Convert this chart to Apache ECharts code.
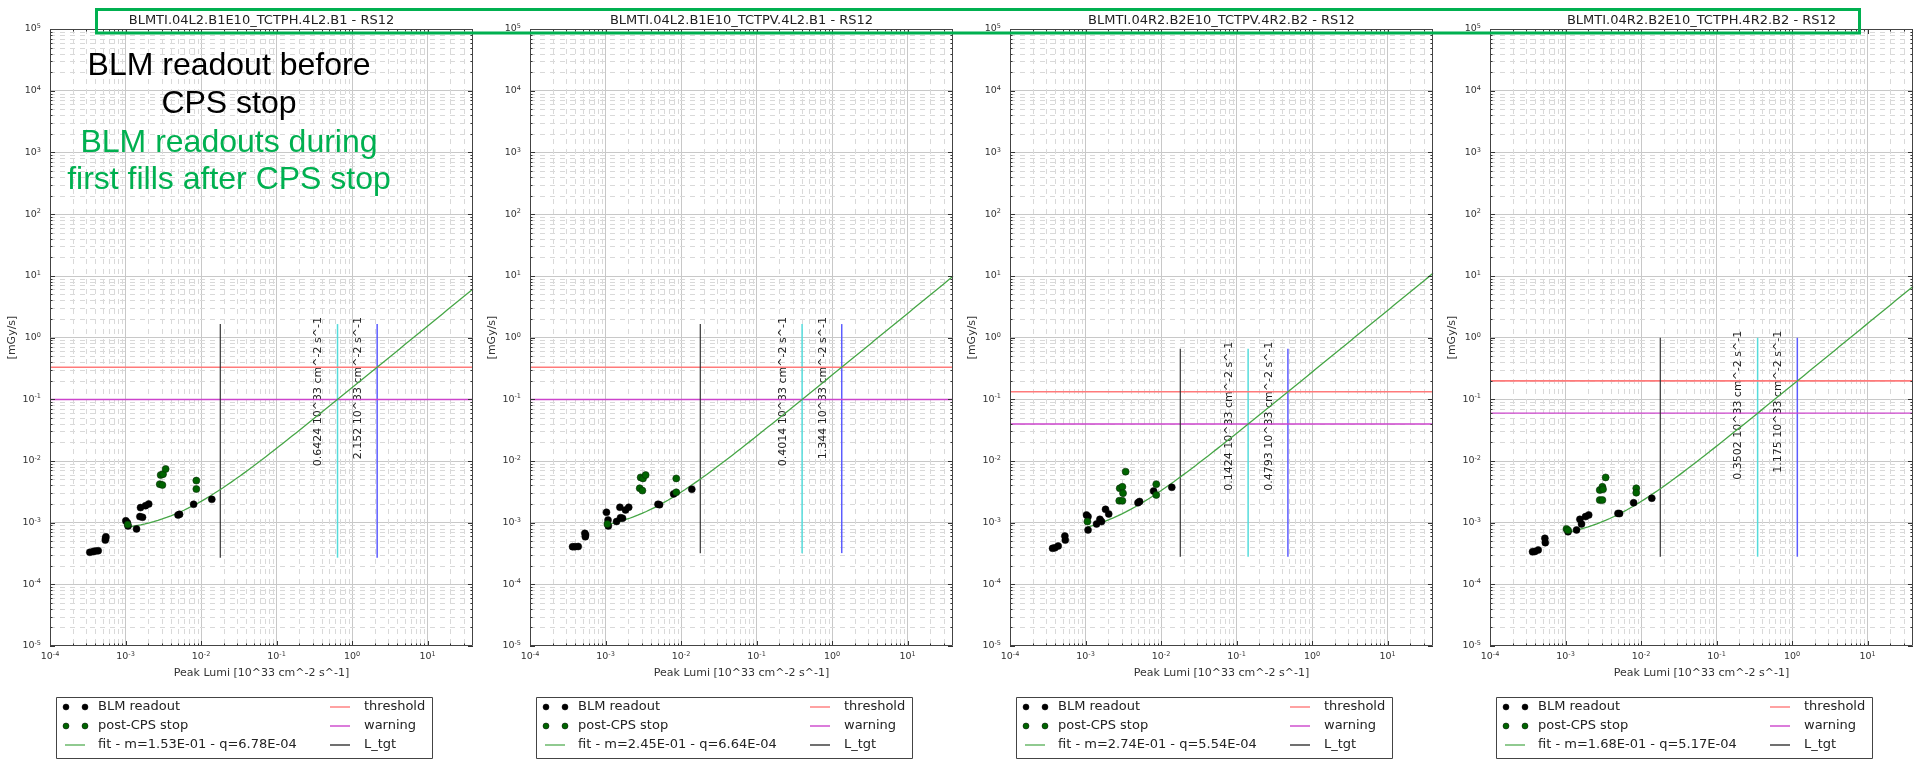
<!DOCTYPE html>
<html>
<head>
<meta charset="utf-8">
<script src="https://cdn.jsdelivr.net/npm/echarts@6/dist/echarts.min.js"></script>
<style>
  html, body { margin: 0; padding: 0; background: #fff; }
  #chart { width: 1915px; height: 760px; }
</style>
</head>
<body>
<div id="chart"></div>
<script>
// ---- data -------------------------------------------------------------
const panelTitles = [
  'BLMTI.04L2.B1E10_TCTPH.4L2.B1 - RS12',
  'BLMTI.04L2.B1E10_TCTPV.4L2.B1 - RS12',
  'BLMTI.04R2.B2E10_TCTPV.4R2.B2 - RS12',
  'BLMTI.04R2.B2E10_TCTPH.4R2.B2 - RS12'
];

// BLM readout before the CPS stop: peak luminosity [10^33 cm^-2 s^-1] and dose rate [mGy/s]
const blmLumi = [
  [3.37e-4, 3.73e-4, 4.0e-4, 4.35e-4, 5.4e-4, 5.45e-4, 5.5e-4, 1.01e-3, 1.06e-3, 1.08e-3, 1.4e-3, 1.55e-3, 1.68e-3, 1.58e-3, 1.84e-3, 2.03e-3, 4.96e-3, 5.2e-3, 7.98e-3, 1.39e-2],
  [3.66e-4, 3.93e-4, 4.35e-4, 5.33e-4, 5.4e-4, 5.45e-4, 1.03e-3, 1.08e-3, 1.09e-3, 1.4e-3, 1.55e-3, 1.58e-3, 1.68e-3, 1.84e-3, 2.03e-3, 4.95e-3, 5.2e-3, 7.98e-3, 1.39e-2],
  [3.66e-4, 3.93e-4, 4.35e-4, 5.33e-4, 5.4e-4, 1.03e-3, 1.08e-3, 1.08e-3, 1.4e-3, 1.55e-3, 1.63e-3, 1.84e-3, 2.03e-3, 4.95e-3, 5.2e-3, 7.98e-3, 1.39e-2],
  [3.66e-4, 3.93e-4, 4.35e-4, 5.33e-4, 5.4e-4, 1.08e-3, 1.4e-3, 1.55e-3, 1.63e-3, 1.84e-3, 2.03e-3, 4.95e-3, 5.2e-3, 7.98e-3, 1.39e-2]
];
const blmDose = [
  [3.3e-4, 3.4e-4, 3.45e-4, 3.5e-4, 5.2e-4, 5.6e-4, 5.9e-4, 1.07e-3, 9.9e-4, 8.8e-4, 7.9e-4, 1.25e-3, 1.22e-3, 1.75e-3, 1.88e-3, 2.0e-3, 1.33e-3, 1.36e-3, 1.98e-3, 2.38e-3],
  [4.07e-4, 4.07e-4, 4.1e-4, 6.7e-4, 5.9e-4, 6.3e-4, 1.47e-3, 1.1e-3, 8.8e-4, 1.04e-3, 1.77e-3, 1.2e-3, 1.18e-3, 1.6e-3, 1.77e-3, 1.98e-3, 1.95e-3, 2.92e-3, 3.47e-3],
  [3.83e-4, 3.9e-4, 4.18e-4, 6.07e-4, 5.2e-4, 1.33e-3, 1.25e-3, 7.6e-4, 9.5e-4, 1.13e-3, 1.04e-3, 1.64e-3, 1.38e-3, 2.1e-3, 2.2e-3, 3.25e-3, 3.73e-3],
  [3.38e-4, 3.4e-4, 3.6e-4, 5.56e-4, 4.73e-4, 7.1e-4, 7.6e-4, 1.13e-3, 9.5e-4, 1.25e-3, 1.33e-3, 1.41e-3, 1.4e-3, 2.1e-3, 2.48e-3]
];

// BLM readout during the first fills after the CPS stop
const postLumi = [
  [1.07e-3, 2.84e-3, 3.08e-3, 2.92e-3, 3.14e-3, 3.4e-3, 8.67e-3, 8.67e-3],
  [1.06e-3, 2.84e-3, 3.08e-3, 2.92e-3, 3.14e-3, 3.4e-3, 8.65e-3, 8.65e-3],
  [1.06e-3, 2.8e-3, 3.08e-3, 2.84e-3, 3.08e-3, 3.14e-3, 3.4e-3, 8.65e-3, 8.65e-3],
  [1.03e-3, 1.08e-3, 2.84e-3, 3.08e-3, 2.84e-3, 3.08e-3, 3.14e-3, 3.4e-3, 8.65e-3, 8.65e-3]
];
const postDose = [
  [9.3e-4, 4.2e-3, 4.07e-3, 5.9e-3, 6.1e-3, 7.4e-3, 4.8e-3, 3.5e-3],
  [9.5e-4, 3.6e-3, 3.3e-3, 5.4e-3, 5.2e-3, 5.9e-3, 5.2e-3, 3.1e-3],
  [1.04e-3, 2.26e-3, 2.26e-3, 3.6e-3, 3.8e-3, 3.0e-3, 6.7e-3, 4.2e-3, 2.8e-3],
  [7.9e-4, 7.5e-4, 2.32e-3, 2.32e-3, 3.37e-3, 3.8e-3, 3.47e-3, 5.4e-3, 3.6e-3, 3.05e-3]
];

// linear fit  dose = m * lumi + q
const fitSlope  = [1.53e-1, 2.45e-1, 2.74e-1, 1.68e-1];
const fitOffset = [6.78e-4, 6.64e-4, 5.54e-4, 5.17e-4];

const thresholdDose = [0.330, 0.330, 0.132, 0.198];
const warningDose   = [0.0990, 0.0990, 0.0396, 0.0594];
const lumiAtWarning   = [0.6424, 0.4014, 0.1424, 0.3502];
const lumiAtThreshold = [2.152, 1.344, 0.4793, 1.175];
const lumiTarget      = [0.018, 0.018, 0.018, 0.018];
const markerLow  = [2.7e-4, 3.2e-4, 2.8e-4, 2.8e-4];
const markerHigh = [1.65, 1.65, 0.66, 0.99];

const lumiRange = [1e-4, 40];
const doseRange = [1e-5, 1e5];

// ---- layout ------------------------------------------------------------
const PANEL_W = 480, PLOT_L = 50, PLOT_W = 423, PLOT_T = 29, PLOT_H = 617;
const FONT = '"DejaVu Sans", sans-serif';
const C_FIT = '#46a646', C_THR = '#ff7a7a', C_WARN = '#cc44cc', C_TGT = '#333333';
const C_LW = '#55dcdc', C_LT = '#5c5cff';

const panels = [0, 1, 2, 3];

function sci(v) {
  const [mant, ex] = v.toExponential(2).split('e');
  const n = parseInt(ex, 10);
  return mant + 'E' + (n < 0 ? '-' : '+') + String(Math.abs(n)).padStart(2, '0');
}

function powLabel(v) {
  const l = Math.log10(v);
  const e = Math.round(l);
  if (Math.abs(l - e) > 1e-6) return '';
  return '{b|10}{s|' + e + '}';
}

const tickRich = {
  b: { fontSize: 9.5, fontFamily: FONT, color: '#333', lineHeight: 12 },
  s: { fontSize: 6.5, fontFamily: FONT, color: '#333', lineHeight: 8, verticalAlign: 'top' }
};

function minorValues(range) {
  const out = [];
  for (let n = Math.floor(Math.log10(range[0])); n <= Math.ceil(Math.log10(range[1])); n++) {
    for (let k = 2; k <= 9; k++) {
      const v = k * Math.pow(10, n);
      if (v > range[0] && v < range[1]) out.push(v);
    }
  }
  return out;
}
function majorValues(range) {
  const out = [];
  for (let n = Math.ceil(Math.log10(range[0]) - 1e-9); n <= Math.floor(Math.log10(range[1]) + 1e-9); n++) {
    out.push(Math.pow(10, n));
  }
  return out;
}

// dashed minor grid between decades
function renderMinorGrid(params, api) {
  const cs = params.coordSys;
  const kids = [];
  const dash = { stroke: '#d9d9d9', lineWidth: 1, lineDash: [5, 5] };
  minorValues(lumiRange).forEach(v => {
    const x = Math.round(api.coord([v, 1])[0]) + 0.5;
    kids.push({ type: 'line', shape: { x1: x, y1: cs.y, x2: x, y2: cs.y + cs.height }, style: dash });
  });
  minorValues(doseRange).forEach(v => {
    const y = Math.round(api.coord([1, v])[1]) + 0.5;
    kids.push({ type: 'line', shape: { x1: cs.x, y1: y, x2: cs.x + cs.width, y2: y }, style: dash });
  });
  return { type: 'group', children: kids };
}

// plot frame with inward ticks on all four sides
function renderFrame(params, api) {
  const cs = params.coordSys;
  const kids = [];
  const tick = { stroke: '#333', lineWidth: 1 };
  const addX = (v, len) => {
    const x = Math.round(api.coord([v, 1])[0]) + 0.5;
    kids.push({ type: 'line', shape: { x1: x, y1: cs.y + cs.height, x2: x, y2: cs.y + cs.height - len }, style: tick });
    kids.push({ type: 'line', shape: { x1: x, y1: cs.y, x2: x, y2: cs.y + len }, style: tick });
  };
  const addY = (v, len) => {
    const y = Math.round(api.coord([1, v])[1]) + 0.5;
    kids.push({ type: 'line', shape: { x1: cs.x, y1: y, x2: cs.x + len, y2: y }, style: tick });
    kids.push({ type: 'line', shape: { x1: cs.x + cs.width, y1: y, x2: cs.x + cs.width - len, y2: y }, style: tick });
  };
  majorValues(lumiRange).forEach(v => addX(v, 5));
  minorValues(lumiRange).forEach(v => addX(v, 2.5));
  majorValues(doseRange).forEach(v => addY(v, 5));
  minorValues(doseRange).forEach(v => addY(v, 2.5));
  kids.push({
    type: 'rect',
    shape: { x: cs.x + 0.5, y: cs.y + 0.5, width: cs.width - 1, height: cs.height - 1 },
    style: { fill: null, stroke: '#444', lineWidth: 1 }
  });
  return { type: 'group', children: kids };
}

const vlineColors = [C_LW, C_LT];
function renderMarkers(params, api) {
  const x = api.value(0), lo = api.value(1), hi = api.value(2);
  const p0 = api.coord([x, lo]);
  const p1 = api.coord([x, hi]);
  const txt = String(x) + ' 10^33 cm^-2 s^-1';
  return {
    type: 'group',
    children: [
      { type: 'line', shape: { x1: p0[0], y1: p0[1], x2: p1[0], y2: p1[1] },
        style: { stroke: vlineColors[params.dataIndex], lineWidth: 1.5 } },
      { type: 'text', x: p1[0] - 19, y: p1[1] - 7, rotation: Math.PI / 2,
        style: { text: txt, font: '11px ' + FONT, fill: '#222',
                 align: 'right', verticalAlign: 'middle',
                 textAlign: 'right', textVerticalAlign: 'middle' } }
    ]
  };
}

function fitLine(i) {
  const x0 = Math.min.apply(null, postLumi[i]);
  const pts = [];
  const N = 80;
  const l0 = Math.log10(x0), l1 = Math.log10(lumiRange[1]);
  for (let k = 0; k <= N; k++) {
    const x = Math.pow(10, l0 + (l1 - l0) * k / N);
    pts.push([x, fitSlope[i] * x + fitOffset[i]]);
  }
  return pts;
}

const zip = (a, b) => a.map((v, k) => [v, b[k]]);

// ---- option ------------------------------------------------------------
const grids = panels.map(i => ({
  left: i * PANEL_W + PLOT_L, top: PLOT_T, width: PLOT_W, height: PLOT_H,
  containLabel: false
}));

const xAxes = panels.map(i => ({
  type: 'log', logBase: 10, gridIndex: i,
  min: lumiRange[0], max: lumiRange[1], interval: 1,
  axisLine: { show: false }, axisTick: { show: false },
  axisLabel: { formatter: powLabel, rich: tickRich, margin: 5, showMaxLabel: false },
  splitLine: { show: true, showMinLine: false, showMaxLine: false, lineStyle: { color: '#c8c8c8', width: 1 } },
  name: 'Peak Lumi [10^33 cm^-2 s^-1]', nameLocation: 'middle', nameGap: 22,
  nameTextStyle: { fontSize: 11, fontFamily: FONT, color: '#333' }
}));

const yAxes = panels.map(i => ({
  type: 'log', logBase: 10, gridIndex: i,
  min: doseRange[0], max: doseRange[1], interval: 1,
  axisLine: { show: false }, axisTick: { show: false },
  axisLabel: { formatter: powLabel, rich: tickRich, margin: 9 },
  splitLine: { show: true, showMinLine: false, showMaxLine: false, lineStyle: { color: '#c8c8c8', width: 1 } },
  name: '[mGy/s]', nameLocation: 'middle', nameGap: 32,
  nameTextStyle: { fontSize: 11, fontFamily: FONT, color: '#333' }
}));

const series = [];
panels.forEach(i => {
  const ax = { xAxisIndex: i, yAxisIndex: i };
  series.push(Object.assign({ type: 'custom', data: [[1, 1]], renderItem: renderMinorGrid, silent: true, z: 1 }, ax));
  series.push(Object.assign({
    type: 'line', data: [[lumiRange[0], thresholdDose[i]], [lumiRange[1], thresholdDose[i]]],
    showSymbol: false, silent: true, z: 3, lineStyle: { color: C_THR, width: 1.6 }
  }, ax));
  series.push(Object.assign({
    type: 'line', data: [[lumiRange[0], warningDose[i]], [lumiRange[1], warningDose[i]]],
    showSymbol: false, silent: true, z: 3, lineStyle: { color: C_WARN, width: 1.4 }
  }, ax));
  series.push(Object.assign({
    type: 'line', data: [[lumiTarget[i], markerLow[i]], [lumiTarget[i], markerHigh[i]]],
    showSymbol: false, silent: true, z: 3, lineStyle: { color: C_TGT, width: 1.2 }
  }, ax));
  series.push(Object.assign({
    type: 'custom', renderItem: renderMarkers, silent: true, z: 3,
    encode: { x: 0, y: [1, 2] },
    data: [[lumiAtWarning[i], markerLow[i], markerHigh[i]], [lumiAtThreshold[i], markerLow[i], markerHigh[i]]]
  }, ax));
  series.push(Object.assign({
    type: 'line', data: fitLine(i), showSymbol: false, silent: true, z: 4,
    lineStyle: { color: C_FIT, width: 1.3 }
  }, ax));
  series.push(Object.assign({
    type: 'scatter', data: zip(blmLumi[i], blmDose[i]), symbolSize: 7, z: 5,
    itemStyle: { color: '#000', borderColor: '#000', borderWidth: 0.5, opacity: 1 }
  }, ax));
  series.push(Object.assign({
    type: 'scatter', data: zip(postLumi[i], postDose[i]), symbolSize: 7, z: 6,
    itemStyle: { color: '#006400', borderColor: '#0a2a0a', borderWidth: 0.6, opacity: 1 }
  }, ax));
  series.push(Object.assign({ type: 'custom', data: [[1, 1]], renderItem: renderFrame, silent: true, z: 8 }, ax));
});

// titles, legends and annotations
const graphics = [];
const txtStyle = (text, size, color, align, family) => ({
  text: text, font: size + 'px ' + (family || FONT), fill: color,
  align: align || 'left', verticalAlign: 'middle',
  textAlign: align || 'left', textVerticalAlign: 'middle'
});

panels.forEach(i => {
  const ox = i * PANEL_W;
  graphics.push({ type: 'text', x: ox + PLOT_L + PLOT_W / 2, y: 21, style: txtStyle(panelTitles[i], 13, '#222', 'center') });

  // legend box
  graphics.push({ type: 'rect', shape: { x: ox + 56.5, y: 697.5, width: 376, height: 61 },
                  style: { fill: '#fff', stroke: '#444', lineWidth: 1 } });
  const rows = [707, 726, 745];
  [[66, rows[0], '#000'], [85, rows[0], '#000'], [66, rows[1], '#006400'], [85, rows[1], '#006400']].forEach(d => {
    graphics.push({ type: 'circle', shape: { cx: ox + d[0], cy: d[1], r: 3 },
                    style: { fill: d[2], stroke: '#000', lineWidth: 0.5 } });
  });
  graphics.push({ type: 'line', shape: { x1: ox + 65, y1: rows[2], x2: ox + 85, y2: rows[2] }, style: { stroke: C_FIT, lineWidth: 1.2 } });
  graphics.push({ type: 'text', x: ox + 98, y: rows[0], style: txtStyle('BLM readout', 13, '#222') });
  graphics.push({ type: 'text', x: ox + 98, y: rows[1], style: txtStyle('post-CPS stop', 13, '#222') });
  graphics.push({ type: 'text', x: ox + 98, y: rows[2],
                  style: txtStyle('fit - m=' + sci(fitSlope[i]) + ' - q=' + sci(fitOffset[i]), 13, '#222') });
  [[C_THR, 'threshold'], [C_WARN, 'warning'], [C_TGT, 'L_tgt']].forEach((d, k) => {
    graphics.push({ type: 'line', shape: { x1: ox + 330, y1: rows[k], x2: ox + 350, y2: rows[k] }, style: { stroke: d[0], lineWidth: 1.4 } });
    graphics.push({ type: 'text', x: ox + 364, y: rows[k], style: txtStyle(d[1], 13, '#222') });
  });
});

const SANS = '"Liberation Sans", Arial, sans-serif';
graphics.push({ type: 'text', x: 229, y: 66, z: 50, style: txtStyle('BLM readout before', 32, '#000', 'center', SANS) });
graphics.push({ type: 'text', x: 229, y: 104, z: 50, style: txtStyle('CPS stop', 32, '#000', 'center', SANS) });
graphics.push({ type: 'text', x: 229, y: 143, z: 50, style: txtStyle('BLM readouts during', 32, '#00b050', 'center', SANS) });
graphics.push({ type: 'text', x: 229, y: 180, z: 50, style: txtStyle('first fills after CPS stop', 32, '#00b050', 'center', SANS) });
graphics.push({ type: 'rect', z: 50, shape: { x: 96.5, y: 9.5, width: 1763, height: 23.5 },
                style: { fill: null, stroke: '#00b050', lineWidth: 3 } });

const chart = echarts.init(document.getElementById('chart'), null, { renderer: 'canvas' });
chart.setOption({
  backgroundColor: '#ffffff',
  animation: false,
  grid: grids,
  xAxis: xAxes,
  yAxis: yAxes,
  series: series,
  graphic: { elements: graphics }
});
</script>
</body>
</html>
